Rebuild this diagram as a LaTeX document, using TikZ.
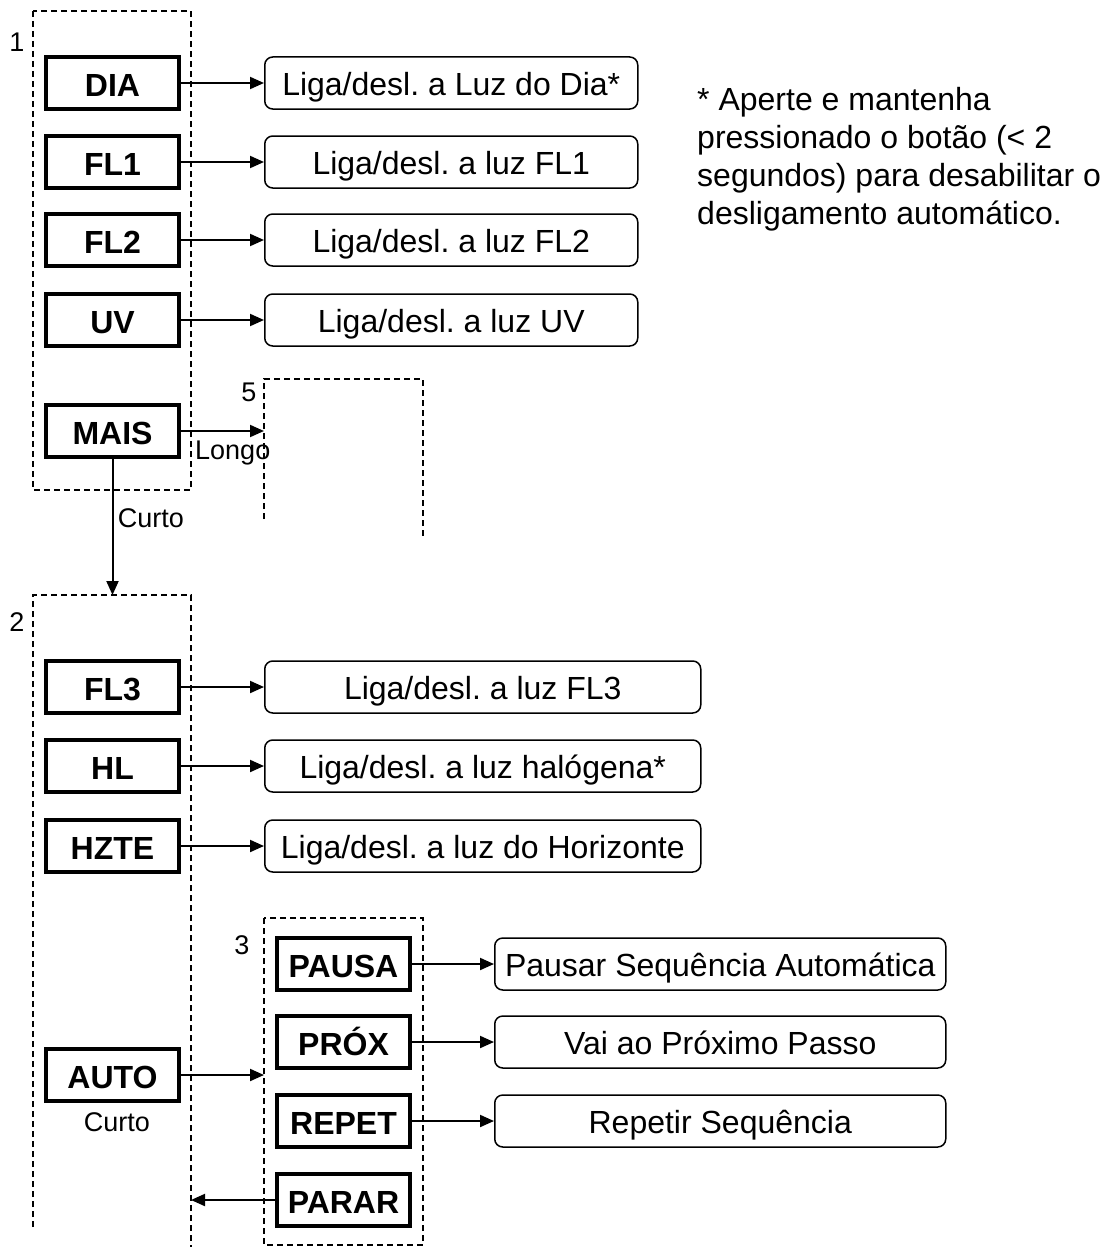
\documentclass[tikz,border=0pt]{standalone}
\usepackage{fontspec}
\setmainfont{Liberation Sans}
\usetikzlibrary{arrows.meta}
\frenchspacing
\begin{document}
\begin{tikzpicture}[x=1pt,y=-1pt,
  btn/.style={draw, line width=3.2pt, minimum width=133pt, minimum height=52pt, inner sep=0pt, text height=27pt, text depth=0pt, font=\bfseries\fontsize{32}{38}\selectfont},
  res/.style={draw, rounded corners=8pt, line width=1.5pt, minimum height=52pt, inner sep=0pt, text height=25.5pt, text depth=0pt, anchor=west, font=\fontsize{32}{38}\selectfont},
  grp/.style={line width=1.3pt, dash pattern=on 6pt off 4pt},
  arr/.style={line width=2pt, -{Triangle[length=14pt,width=12pt]}},
  lbl/.style={inner sep=0pt, font=\fontsize{27}{32}\selectfont},
  ]
\useasboundingbox (0,0) rectangle (1102,1247);
% groups
\draw[grp] (33,11) rectangle (191,490);
\draw[grp] (264,519) -- (264,379) -- (423,379) -- (423,537);
\draw[grp] (33,1227) -- (33,595) -- (191,595) -- (191,1247);
\draw[grp] (264,918) rectangle (423,1245);
\node[lbl] (n1) at (17,42) {1};
\node[lbl] (n5) at (249,392) {5};
\node[lbl] (n2) at (17,622) {2};
\node[lbl] (n3) at (242,945) {3};
\coordinate (g5in) at (264,431);
\coordinate (g2top) at (113,595);
\coordinate (g3in) at (264,1075);
\coordinate (g2right) at (191,1200);
% group 1
\node[btn] (dia) at (112.5,83) {DIA};
\node[btn] (fl1) at (112.5,162) {FL1};
\node[btn] (fl2) at (112.5,240) {FL2};
\node[btn] (uv) at (112.5,320) {UV};
\node[btn] (mais) at (112.5,431) {MAIS};
\node[res, minimum width=373pt] (rdia) at (264,83) {Liga/desl. a Luz do Dia*};
\node[res, minimum width=373pt] (rfl1) at (264,162) {Liga/desl. a luz FL1};
\node[res, minimum width=373pt] (rfl2) at (264,240) {Liga/desl. a luz FL2};
\node[res, minimum width=373pt] (ruv) at (264,320) {Liga/desl. a luz UV};
\draw[arr] (dia) -- (rdia);
\draw[arr] (fl1) -- (rfl1);
\draw[arr] (fl2) -- (rfl2);
\draw[arr] (uv) -- (ruv);
\draw[arr] (mais) -- (g5in);
\node[lbl, anchor=west] (longo) at (195,453) {Longo};
\draw[arr] (mais.south) -- (mais.south |- g2top);
\node[lbl] (curto1) at (151,518) {Curto};
% note
\node[anchor=north west, align=left, inner sep=0pt, font=\fontsize{32}{38}\selectfont] (note) at (697,87)
  {* Aperte e mantenha\\pressionado o botão (< 2\\segundos) para desabilitar o\\desligamento automático.};
% group 2
\node[btn] (fl3) at (112.5,687) {FL3};
\node[btn] (hl) at (112.5,766) {HL};
\node[btn] (hzte) at (112.5,846) {HZTE};
\node[btn] (auto) at (112.5,1075) {AUTO};
\node[lbl] (curto2) at (117,1122) {Curto};
\node[res, minimum width=436pt] (rfl3) at (264,687) {Liga/desl. a luz FL3};
\node[res, minimum width=436pt] (rhl) at (264,766) {Liga/desl. a luz halógena*};
\node[res, minimum width=436pt] (rhzte) at (264,846) {Liga/desl. a luz do Horizonte};
\draw[arr] (fl3) -- (rfl3);
\draw[arr] (hl) -- (rhl);
\draw[arr] (hzte) -- (rhzte);
\draw[arr] (auto) -- (g3in);
% group 3
\node[btn] (pausa) at (343.5,964) {PAUSA};
\node[btn] (prox) at (343.5,1042) {PRÓX};
\node[btn] (repet) at (343.5,1121) {REPET};
\node[btn] (parar) at (343.5,1200) {PARAR};
\node[res, minimum width=451pt] (rpausa) at (494,964) {Pausar Sequência Automática};
\node[res, minimum width=451pt] (rprox) at (494,1042) {Vai ao Próximo Passo};
\node[res, minimum width=451pt] (rrepet) at (494,1121) {Repetir Sequência};
\draw[arr] (pausa) -- (rpausa);
\draw[arr] (prox) -- (rprox);
\draw[arr] (repet) -- (rrepet);
\draw[arr] (parar) -- (g2right);
\end{tikzpicture}
\end{document}
